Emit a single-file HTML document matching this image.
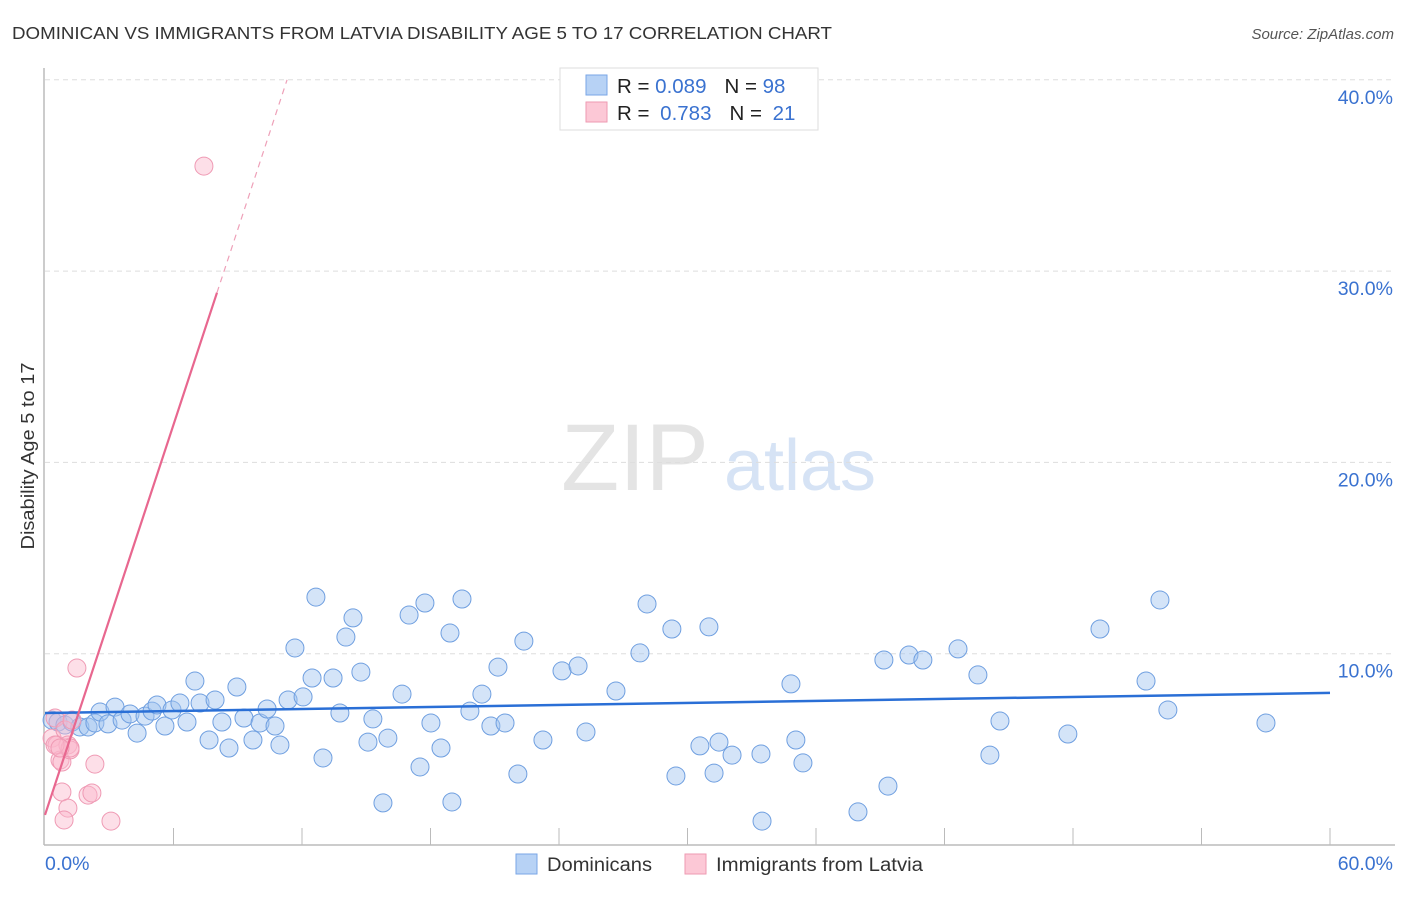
<!DOCTYPE html>
<html><head><meta charset="utf-8"><style>
body{margin:0;background:#fff;font-family:"Liberation Sans",sans-serif;}
svg text{font-family:"Liberation Sans",sans-serif;}
</style></head><body>
<svg id="chart" width="1406" height="892" xmlns="http://www.w3.org/2000/svg">
<text x="12" y="39" font-size="17.5" fill="#333" textLength="820" lengthAdjust="spacingAndGlyphs">DOMINICAN VS IMMIGRANTS FROM LATVIA DISABILITY AGE 5 TO 17 CORRELATION CHART</text>
<text x="1394" y="39" font-size="15" fill="#555" text-anchor="end" font-style="italic">Source: ZipAtlas.com</text>
<g>
<text x="635" y="490" font-size="95" fill="#e4e4e4" text-anchor="middle" font-family="Liberation Serif, serif">ZIP</text>
<text x="800" y="490" font-size="72" fill="#d6e3f5" text-anchor="middle">atlas</text>
</g>
<text transform="translate(34,456) rotate(-90)" font-size="18" fill="#333" text-anchor="middle" textLength="187" lengthAdjust="spacingAndGlyphs">Disability Age 5 to 17</text>
<g id="grid"></g><g id="axes"></g><g id="pts"></g><g id="lines"></g>
<g>
<rect x="560" y="68" width="258" height="62" fill="#fff" stroke="#ddd"/>
<rect x="586" y="75" width="21" height="20" fill="#b7d2f5" stroke="#7aa6e6"/>
<rect x="586" y="102" width="21" height="20" fill="#fcc8d6" stroke="#ee9ab2"/>
<text x="617" y="93" font-size="20.5" fill="#222">R = <tspan fill="#3a72d0">0.089</tspan><tspan dx="18">N = </tspan><tspan fill="#3a72d0">98</tspan></text>
<text x="617" y="120" font-size="20.5" fill="#222">R = <tspan fill="#3a72d0" dx="5">0.783</tspan><tspan dx="18">N = </tspan><tspan fill="#3a72d0" dx="5">21</tspan></text>
</g>
<g>
<rect x="516" y="854" width="21" height="20" fill="#b7d2f5" stroke="#7aa6e6"/>
<text x="547" y="871" font-size="19" fill="#333" textLength="105" lengthAdjust="spacingAndGlyphs">Dominicans</text>
<rect x="685" y="854" width="21" height="20" fill="#fcc8d6" stroke="#ee9ab2"/>
<text x="716" y="871" font-size="19" fill="#333" textLength="207" lengthAdjust="spacingAndGlyphs">Immigrants from Latvia</text>
</g>
</svg>
<script>
const xTicks=[0,60];
const yTicks=[10,20,30,40];
const blueX=[0.33,0.61,0.93,1.26,1.63,2.01,2.33,2.57,2.94,3.27,3.60,3.97,4.30,4.67,5.00,5.23,5.60,5.93,6.30,6.63,7.00,7.24,7.66,7.94,8.26,8.59,8.96,9.29,9.71,10.04,10.37,10.74,10.97,11.35,11.67,12.05,12.47,12.65,12.98,13.45,13.77,14.05,14.38,14.75,15.08,15.31,15.78,16.01,16.67,17.00,17.51,17.74,18.02,18.49,18.91,19.00,19.47,19.84,20.40,20.82,21.15,21.48,22.08,22.36,23.25,24.14,24.89,25.26,26.66,27.78,28.11,29.27,29.46,30.58,31.00,31.24,31.47,32.08,33.43,33.48,34.83,35.06,35.39,37.96,39.17,39.36,40.34,40.99,42.63,43.56,44.12,44.59,47.76,49.26,51.41,52.06,52.43,57.01];
const blueY=[6.53,6.43,6.27,6.43,6.17,6.17,6.38,6.95,6.33,7.21,6.53,6.85,5.85,6.74,7.00,7.32,6.22,7.06,7.42,6.43,8.57,7.42,5.49,7.58,6.43,5.07,8.26,6.64,5.49,6.38,7.11,6.22,5.23,7.58,10.30,7.74,8.73,12.96,4.55,8.73,6.90,10.87,11.87,9.04,5.38,6.59,2.20,5.59,7.89,12.02,4.08,12.65,6.38,5.07,11.08,2.25,12.86,7.00,7.89,6.22,9.30,6.38,3.71,10.66,5.49,9.10,9.36,5.91,8.05,10.04,12.60,11.29,3.61,5.18,11.40,3.76,5.38,4.70,4.76,1.25,8.42,5.49,4.29,1.73,9.67,3.08,9.93,9.67,10.25,8.89,4.70,6.48,5.80,11.29,8.57,12.81,7.06,6.38];
const pinkX=[0.33,0.47,0.56,0.70,0.79,0.93,1.07,1.17,1.26,0.79,1.07,0.89,1.17,1.49,2.33,2.01,2.19,3.08,7.42,0.47,0.70];
const pinkY=[5.59,6.64,5.23,4.44,4.34,6.01,5.23,4.97,6.53,2.77,1.93,1.31,5.07,9.25,4.23,2.61,2.72,1.25,35.49,5.23,5.07];
const blueTrend=[6.9,7.95];
const pinkTrend=[1.57,3.4]; // intercept, slope

const NS="http://www.w3.org/2000/svg";
const X=v=>45+v*(1285/60);
const Y=v=>845-v*19.13;
function mk(tag,attrs,parent){const e=document.createElementNS(NS,tag);for(const k in attrs)e.setAttribute(k,attrs[k]);document.getElementById(parent).appendChild(e);return e;}

yTicks.forEach(t=>{
  const g=mk('line',{x1:45,x2:1395,y1:Y(t),y2:Y(t),stroke:'#ddd','stroke-dasharray':'5,4'},'grid');
  
  
  const l=mk('text',{x:1393,y:Y(t)+24,'font-size':19.5,fill:'#3a72d0','text-anchor':'end'},'grid');
  l.textContent=t.toFixed(1)+'%';
  
  
});
const ya=mk('line',{x1:44,x2:44,y1:68,y2:845,stroke:'#bbb','stroke-width':1.5},'axes');


const xa=mk('line',{x1:44,x2:1395,y1:845,y2:845,stroke:'#bbb','stroke-width':1.5},'axes');


for(let i=1;i<=10;i++){
  const t=mk('line',{x1:X(i*6),x2:X(i*6),y1:828,y2:845,stroke:'#bbb'},'axes');
  
  
}
xTicks.forEach((t,i)=>{
  const l=mk('text',{x:i?1393:45,y:870,'font-size':19.5,fill:'#3a72d0','text-anchor':i?'end':'start'},'axes');
  l.textContent=t.toFixed(1)+'%';
  
  
});
blueX.forEach((v,i)=>{
  const c=mk('circle',{cx:X(v),cy:Y(blueY[i]),r:9,fill:'rgba(160,195,240,0.45)',stroke:'#6f9fe0','stroke-width':1},'pts');
  
  
});
pinkX.forEach((v,i)=>{
  const c=mk('circle',{cx:X(v),cy:Y(pinkY[i]),r:9,fill:'rgba(250,185,205,0.45)',stroke:'#ef9ab4','stroke-width':1},'pts');
  
  
});
const bt=mk('line',{x1:X(0),y1:Y(blueTrend[0]),x2:X(60),y2:Y(blueTrend[1]),stroke:'#2a6fd6','stroke-width':2.5},'lines');


const xs=8.03, xe=(40-pinkTrend[0])/pinkTrend[1];
const pt=mk('line',{x1:X(0),y1:Y(pinkTrend[0]),x2:X(xs),y2:Y(pinkTrend[0]+pinkTrend[1]*xs),stroke:'#e8678f','stroke-width':2.2},'lines');


const pd=mk('line',{x1:X(xs),y1:Y(pinkTrend[0]+pinkTrend[1]*xs),x2:X(xe),y2:Y(40),stroke:'#eea0b8','stroke-width':1.2,'stroke-dasharray':'6,5'},'lines');


</script>
</body></html>
